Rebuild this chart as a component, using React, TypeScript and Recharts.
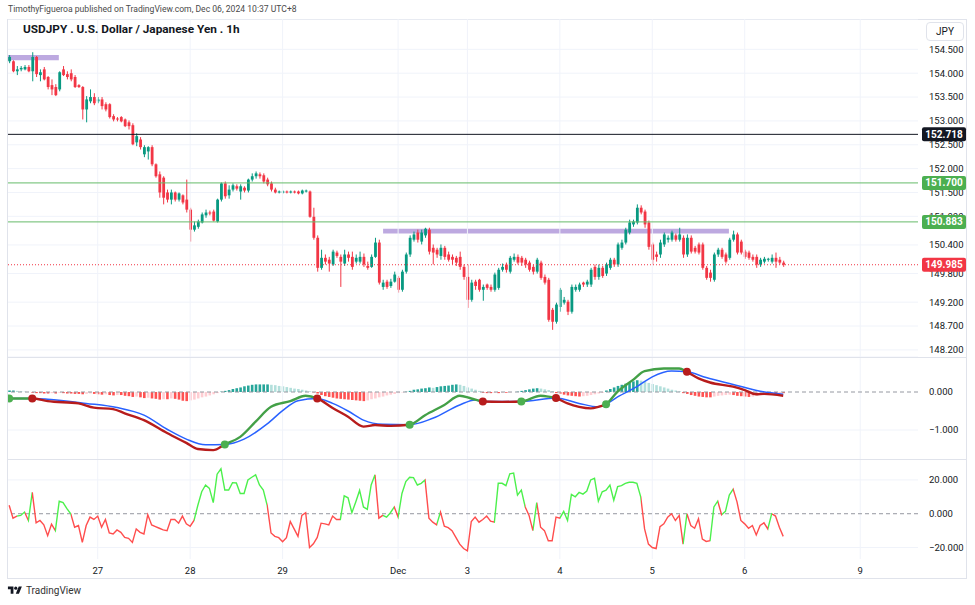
import {
  Bar,
  CartesianGrid,
  Cell,
  ComposedChart,
  Line,
  ReferenceArea,
  ReferenceDot,
  ReferenceLine,
  XAxis,
  YAxis,
} from "recharts";

// [open, high, low, close] per 1h bar, USDJPY
type Ohlc = [number, number, number, number];

const nov26: Ohlc[] = [
  [154.25, 154.38, 154.21, 154.34], [154.25, 154.27, 154.02, 154.04], [154.04, 154.15, 153.96, 154.08],
  [154.08, 154.15, 154.04, 154.11], [154.08, 154.17, 154.06, 154.13], [154.13, 154.17, 154.02, 154.04],
  [154.04, 154.44, 153.83, 154.34], [154.34, 154.36, 153.92, 153.98], [153.96, 154.08, 153.83, 154.02],
  [154.08, 154.13, 153.85, 153.87], [153.92, 153.94, 153.66, 153.71], [153.75, 153.87, 153.54, 153.66],
  [153.71, 153.77, 153.52, 153.54], [153.66, 154.04, 153.62, 154.02], [154.08, 154.15, 153.94, 153.96],
  [153.98, 154.04, 153.87, 153.92], [154.0, 154.08, 153.83, 153.87], [153.92, 153.96, 153.69, 153.71],
  [153.75, 153.77, 153.69, 153.71], [153.71, 153.73, 153.03, 153.24], [153.24, 153.52, 152.97, 153.45],
  [153.41, 153.66, 153.37, 153.5], [153.5, 153.58, 153.33, 153.37],
];
const nov27: Ohlc[] = [
  [153.41, 153.5, 153.37, 153.45], [153.45, 153.5, 153.24, 153.31], [153.35, 153.39, 153.2, 153.24],
  [153.35, 153.37, 153.05, 153.08], [153.1, 153.14, 152.99, 153.03], [153.05, 153.08, 152.99, 153.03],
  [153.08, 153.1, 152.97, 152.99], [153.03, 153.05, 152.87, 152.89], [152.97, 153.01, 152.82, 152.89],
  [152.91, 152.95, 152.49, 152.51], [152.55, 152.74, 152.47, 152.68], [152.61, 152.66, 152.4, 152.45],
  [152.3, 152.49, 152.24, 152.45], [152.36, 152.47, 152.19, 152.45], [152.45, 152.49, 152.05, 152.09],
  [152.09, 152.11, 151.81, 151.84], [151.88, 151.94, 151.39, 151.5], [151.81, 151.84, 151.25, 151.39],
  [151.5, 151.56, 151.29, 151.35], [151.35, 151.56, 151.25, 151.5], [151.5, 151.52, 151.31, 151.35],
  [151.35, 151.5, 151.31, 151.48], [151.44, 151.46, 151.25, 151.29], [151.35, 151.77, 151.08, 151.14],
];
const nov28: Ohlc[] = [
  [151.14, 151.18, 150.47, 150.72], [150.72, 150.89, 150.68, 150.81], [150.78, 150.93, 150.74, 150.89],
  [150.87, 151.08, 150.85, 151.04], [151.02, 151.14, 150.97, 151.08], [151.08, 151.12, 151.02, 151.06],
  [151.1, 151.14, 150.89, 150.91], [150.89, 151.37, 150.87, 151.35], [151.35, 151.71, 151.31, 151.69],
  [151.69, 151.73, 151.37, 151.42], [151.44, 151.65, 151.37, 151.56], [151.56, 151.69, 151.52, 151.65],
  [151.63, 151.67, 151.54, 151.58], [151.52, 151.67, 151.35, 151.63], [151.6, 151.63, 151.5, 151.54],
  [151.54, 151.79, 151.5, 151.77], [151.77, 151.9, 151.73, 151.84], [151.84, 151.94, 151.79, 151.9],
  [151.88, 151.92, 151.79, 151.84], [151.86, 151.9, 151.69, 151.73], [151.77, 151.81, 151.63, 151.67],
  [151.69, 151.73, 151.52, 151.56], [151.56, 151.6, 151.48, 151.5], [151.5, 151.54, 151.48, 151.52],
];
const nov29: Ohlc[] = [
  [151.5, 151.54, 151.48, 151.52], [151.52, 151.54, 151.48, 151.5], [151.5, 151.54, 151.48, 151.52],
  [151.52, 151.54, 151.48, 151.5], [151.52, 151.54, 151.46, 151.48], [151.48, 151.56, 151.46, 151.54],
  [151.52, 151.56, 151.5, 151.54], [151.52, 151.54, 150.97, 150.99], [150.99, 151.18, 150.51, 150.55],
  [150.55, 150.6, 149.84, 149.92], [149.92, 150.3, 149.88, 150.13], [150.13, 150.2, 149.99, 150.05],
  [150.09, 150.15, 149.84, 150.01], [149.99, 150.3, 149.96, 150.26], [150.24, 150.28, 150.13, 150.17],
  [150.15, 150.2, 149.52, 150.05], [150.01, 150.3, 149.96, 150.2], [150.2, 150.26, 150.05, 150.13],
  [150.15, 150.26, 149.88, 149.94], [150.05, 150.2, 150.01, 150.13], [150.05, 150.26, 150.01, 150.15],
  [150.15, 150.22, 149.94, 149.99], [149.96, 150.05, 149.88, 149.92], [149.94, 150.2, 149.92, 150.15],
  [150.15, 150.55, 150.13, 150.45], [150.45, 150.51, 149.57, 149.61], [149.52, 149.67, 149.46, 149.61],
  [149.63, 149.67, 149.48, 149.52], [149.54, 149.69, 149.5, 149.63], [149.63, 149.84, 149.61, 149.78],
];
const dec02: Ohlc[] = [
  [149.71, 149.75, 149.4, 149.46], [149.46, 149.88, 149.42, 149.84], [149.84, 150.24, 149.8, 150.2],
  [150.2, 150.6, 150.15, 150.55], [150.51, 150.68, 150.47, 150.62], [150.66, 150.72, 150.45, 150.51],
  [150.47, 150.72, 150.41, 150.66], [150.6, 150.76, 150.55, 150.74], [150.72, 150.76, 150.2, 150.26],
  [150.34, 150.41, 149.99, 150.24], [150.3, 150.34, 150.13, 150.2], [150.17, 150.41, 150.09, 150.34],
  [150.34, 150.38, 150.09, 150.15], [150.2, 150.26, 150.05, 150.09], [150.15, 150.2, 149.99, 150.09],
  [150.13, 150.17, 149.96, 150.03], [150.15, 150.26, 149.88, 149.94], [149.94, 149.99, 149.67, 149.73],
];
const dec03: Ohlc[] = [
  [149.73, 149.99, 149.08, 149.25], [149.25, 149.67, 149.21, 149.61], [149.63, 149.67, 149.46, 149.54],
  [149.67, 149.69, 149.42, 149.46], [149.46, 149.57, 149.23, 149.52], [149.57, 149.59, 149.46, 149.5],
  [149.52, 149.57, 149.42, 149.46], [149.46, 149.82, 149.42, 149.78], [149.5, 149.92, 149.46, 149.88],
  [149.88, 150.01, 149.84, 149.94], [149.99, 150.03, 149.82, 149.88], [149.84, 150.17, 149.8, 150.13],
  [150.09, 150.22, 150.05, 150.15], [150.15, 150.2, 149.99, 150.03], [150.13, 150.17, 149.96, 150.03],
  [150.09, 150.13, 149.92, 149.99], [150.03, 150.07, 149.84, 149.88], [149.94, 149.99, 149.78, 149.84],
  [149.84, 150.13, 149.8, 150.09], [150.03, 150.07, 149.67, 149.71], [149.73, 149.78, 149.57, 149.61],
  [149.67, 149.71, 148.79, 148.83], [149.04, 149.08, 148.62, 148.79], [148.79, 149.19, 148.75, 149.15],
];
const dec04: Ohlc[] = [
  [149.1, 149.5, 149.0, 149.46], [149.19, 149.31, 149.15, 149.25], [149.21, 149.25, 148.93, 149.0],
  [149.0, 149.57, 148.96, 149.52], [149.46, 149.57, 149.42, 149.52], [149.46, 149.61, 149.42, 149.57],
  [149.61, 149.63, 149.52, 149.57], [149.57, 149.67, 149.52, 149.63], [149.57, 149.92, 149.52, 149.88],
  [149.94, 149.99, 149.67, 149.73], [149.73, 149.99, 149.67, 149.92], [149.92, 149.96, 149.71, 149.75],
  [149.8, 150.03, 149.75, 149.99], [149.92, 150.13, 149.88, 150.09], [150.09, 150.13, 149.94, 149.99],
  [149.99, 150.45, 149.94, 150.41], [150.34, 150.51, 150.3, 150.45], [150.45, 150.76, 150.41, 150.72],
  [150.66, 150.93, 150.62, 150.87], [150.83, 150.93, 150.78, 150.89], [150.87, 151.25, 150.83, 151.18],
  [151.18, 151.23, 151.04, 151.08], [151.1, 151.14, 150.76, 150.83], [150.87, 150.91, 150.3, 150.36],
];
const dec05: Ohlc[] = [
  [150.41, 150.45, 149.99, 150.09], [150.2, 150.26, 150.05, 150.15], [150.2, 150.51, 150.13, 150.45],
  [150.41, 150.66, 150.36, 150.62], [150.51, 150.6, 150.45, 150.55], [150.51, 150.7, 150.47, 150.66],
  [150.6, 150.64, 150.47, 150.51], [150.51, 150.76, 150.47, 150.62], [150.55, 150.6, 150.13, 150.2],
  [150.2, 150.62, 150.15, 150.55], [150.55, 150.6, 150.22, 150.26], [150.34, 150.38, 150.22, 150.26],
  [150.41, 150.45, 150.2, 150.24], [150.41, 150.45, 149.88, 149.92], [149.92, 149.96, 149.67, 149.71],
  [149.82, 149.88, 149.63, 149.71], [149.67, 150.24, 149.63, 150.2], [150.2, 150.34, 150.15, 150.3],
  [150.3, 150.34, 150.11, 150.15], [150.2, 150.24, 150.01, 150.05], [150.13, 150.55, 150.09, 150.51],
  [150.51, 150.7, 150.47, 150.62], [150.62, 150.66, 150.2, 150.24], [150.47, 150.51, 150.2, 150.24],
];
const dec06: Ohlc[] = [
  [150.26, 150.3, 150.11, 150.15], [150.24, 150.28, 150.09, 150.13], [150.15, 150.2, 150.05, 150.09],
  [150.15, 150.2, 149.92, 149.99], [149.99, 150.13, 149.94, 150.09], [150.05, 150.15, 150.01, 150.11],
  [150.09, 150.13, 150.05, 150.11], [150.05, 150.2, 150.01, 150.13], [150.13, 150.24, 149.92, 150.05],
  [150.09, 150.15, 149.99, 150.03], [150.03, 150.07, 149.94, 149.985],
];

// time axis: bar index of each day label
const dayTicks = [23, 47, 71, 101, 119, 143, 167, 191, 221];
const dayLabels = ["27", "28", "29", "Dec", "3", "4", "5", "6", "9"];

const priceTicks = [148.2, 148.7, 149.2, 149.8, 150.4, 151.0, 151.5, 152.0, 152.5, 153.0, 153.5, 154.0, 154.5];
const levels = [
  { price: 152.718, color: "#131722", line: "#131722" },
  { price: 151.7, color: "#4caf50", line: "#66bb6a" },
  { price: 150.883, color: "#4caf50", line: "#66bb6a" },
];
const lastPrice = 149.985;
// drawn zones: [from bar, to bar, low, high]
const zones: [number, number, number, number][] = [
  [-0.3, 12.9, 154.27, 154.38],
  [97.1, 186.9, 150.64, 150.74],
];

// MACD panel
const histNov = [
  0.04, 0.04, 0.03, 0.02, 0.01, 0.0, -0.02, -0.03, -0.03, -0.04,
  -0.04, -0.03, -0.04, -0.02, -0.03, -0.04, -0.04, -0.05, -0.05, -0.06,
  -0.05, -0.04, -0.05, -0.06, -0.07, -0.06, -0.08, -0.09, -0.08, -0.08,
  -0.1, -0.11, -0.13, -0.12, -0.14, -0.16, -0.15, -0.17, -0.18, -0.2,
  -0.19, -0.19, -0.17, -0.18, -0.2, -0.23, -0.24, -0.22, -0.2, -0.17,
  -0.14, -0.12, -0.09, -0.06, -0.03, 0.01, 0.03, 0.05, 0.08, 0.1,
  0.12, 0.15, 0.17, 0.19, 0.2, 0.2, 0.2, 0.2, 0.19, 0.18,
  0.16, 0.15, 0.13, 0.11, 0.09, 0.08, 0.06, 0.04, 0.02, -0.01,
  -0.04, -0.08, -0.11, -0.13, -0.15, -0.17, -0.18, -0.19, -0.2, -0.21,
  -0.22, -0.23, -0.24, -0.22, -0.19, -0.17, -0.14, -0.12, -0.09, -0.07,
  -0.05,
];
const histDec = [
  -0.03, -0.01, 0.01, 0.03, 0.06, 0.07, 0.09, 0.1, 0.12,
  0.11, 0.13, 0.15, 0.16, 0.17, 0.19, 0.2, 0.19, 0.16, 0.12,
  0.09, 0.06, 0.03, -0.02, -0.03, -0.03, -0.02, -0.03, -0.02, -0.02,
  -0.01, 0.0, 0.01, 0.03, 0.05, 0.07, 0.09, 0.1, 0.09, 0.07,
  0.05, 0.02, -0.03, -0.05, -0.07, -0.09, -0.1, -0.11, -0.12, -0.11,
  -0.1, -0.08, -0.06, -0.04, -0.02, 0.04, 0.08, 0.12, 0.16, 0.19,
  0.22, 0.25, 0.28, 0.31, 0.3, 0.27, 0.24, 0.21, 0.18, 0.15,
  0.12, 0.09, 0.06, 0.04, 0.02, -0.03, -0.05, -0.08, -0.1, -0.12,
  -0.13, -0.14, -0.14, -0.12, -0.1, -0.09, -0.08, -0.07, -0.08, -0.1,
  -0.11, -0.12, -0.13, -0.12, -0.1, -0.08, -0.06, -0.05, -0.04, -0.04,
  -0.03, -0.03,
];
// [bar, value]
const macdLine: [number, number][] = [
  [0, -0.17], [6, -0.17], [10, -0.24], [18, -0.3], [22, -0.41], [27, -0.45], [30, -0.56], [35, -0.74],
  [41, -1.08], [46, -1.34], [49, -1.5], [53, -1.53], [56, -1.38], [60, -1.18], [64, -0.78], [68, -0.39],
  [73, -0.24], [77, -0.1], [80, -0.17], [84, -0.42], [88, -0.65], [92, -0.91], [95, -0.87], [99, -0.89],
  [104, -0.86], [108, -0.61], [113, -0.34], [117, -0.1], [120, -0.17], [123, -0.25], [128, -0.26],
  [133, -0.25], [138, -0.1], [140, -0.12], [142, -0.16], [145, -0.3], [148, -0.39], [151, -0.43],
  [153, -0.39], [155, -0.32], [158, 0.01], [162, 0.32], [165, 0.55], [170, 0.62], [174, 0.62],
  [176, 0.53], [179, 0.36], [182, 0.25], [188, 0.14], [191, 0.05], [194, -0.06], [196, -0.05], [201, -0.1],
];
const signalLine: [number, number][] = [
  [0, -0.17], [6, -0.17], [10, -0.19], [20, -0.3], [28, -0.41], [35, -0.61], [41, -0.98], [46, -1.24],
  [51, -1.39], [56, -1.38], [61, -1.24], [67, -0.84], [71, -0.49], [75, -0.23], [80, -0.17], [84, -0.3],
  [88, -0.5], [92, -0.74], [97, -0.85], [104, -0.86], [110, -0.69], [117, -0.34], [121, -0.21],
  [123, -0.25], [133, -0.25], [142, -0.16], [148, -0.3], [153, -0.39], [155, -0.32], [158, -0.13],
  [163, 0.14], [167, 0.4], [172, 0.55], [176, 0.53], [181, 0.38], [188, 0.2], [195, 0.02], [201, -0.06],
];
const macdGreen = [[0, 6], [56, 80], [104, 123], [133, 142], [155, 176]];
// [bar, value, crossing up]
const crosses: [number, number, boolean][] = [
  [0, -0.17, true], [6, -0.17, false], [56, -1.38, true], [80, -0.17, false], [104, -0.86, true],
  [123, -0.25, false], [133, -0.25, true], [142, -0.16, false], [155, -0.32, true], [176, 0.53, false],
];

// lower oscillator
const oscNov = [
  5.0, -2.6, -1.4, -1.0, 1.0, -4.0, 12.6, -5.4, -4.0, -6.6,
  -13, -6.2, -10, 7.4, 6.6, 3, 0, -8, -7, -17,
  -7, -2, -3.4, -1.4, -8, -3.4, -11.4, -12, -9.6, -11,
  -14, -14.6, -17, -9, -11, -12, -0.6, -6.6, -7.6, -8.6,
  -9.6, -10, -3.4, -3.4, -5.6, -1.4, -6, -7.4, -4, 5,
  13, 17, 15, 6.6, 23.4, 26.6, 14, 14, 18.4, 18.2,
  12, 12, 20, 21.6, 23, 17, 14, 5, -11.4, -13.4,
  -14.2, -16.6, -14.2, -4.6, -9, -13.4, -1, 0.6, -20, -17.8,
  -14, -5.6, -6, -6.6, -1.4, -3.4, -3.4, 10.6, 9.4, 0.6,
  7, 13.8, 4, 2.6, 17, 23, -2.6, -1, -2, 0.6,
  4,
];
const oscDec = [
  -2, 12, 19, 21.6, 21.4, 17, 18, 20, -2.6,
  -5, -6.6, 1, -7.4, -8.2, -10, -14, -18, -20.6, -22,
  -4.6, -2, -5, -3.4, -1.4, -4.4, -5, 18, 18, 16.6,
  23.6, 24, 11, 14, 4, -1, -10, 6.6, -8, -10,
  -16, -16, -2, -2.6, 1.4, -4, 11.4, 10, 12.6, 11.6,
  13.4, 20, 21, 7.4, 13, 14, 17, 8, 16, 16.6,
  18, 18.6, 18.6, 18, 10, -9, -18, -20, -20.6, -7.6,
  -6, -2, 0, -4, -1, -18, 0, -7, -8.6, -3,
  -15, -16.4, -16, 4, 7.4, -0.6, 1.4, 11, 14.6, 7,
  -4, -6, -8.6, -7, -12.6, -7, -5.4, -9, 0, -1.4,
  -8, -13.4,
];
const oscGreen = [
  [2, 4], [5, 6], [12, 16], [48, 67], [86, 95], [97, 100], [101, 108], [111, 112],
  [126, 134], [136, 137], [143, 164], [175, 176], [182, 184], [185, 188], [197, 198],
];

const FONT = "Roboto, 'Noto Sans', sans-serif";
const TEXT = "#131722";
const GRID = "#f0f3fa";
const BORDER = "#e0e3eb";
const UP = "#089981";
const DOWN = "#f23645";
const X_DOMAIN: [number, number] = [-0.3, 236];
const PRICE_DOMAIN: [number, number] = [148.051, 155.136];
const CHART_W = 959;
const AXIS_W = 49;
const tickStyle = { fontSize: 9.5, fill: TEXT, fontFamily: FONT };

const candles = [...nov26, ...nov27, ...nov28, ...nov29, ...dec02, ...dec03, ...dec04, ...dec05, ...dec06].map(
  ([o, h, l, c], i) => ({ i, o, h, l, c, range: [l, h] })
);
const hist = [...histNov, ...histDec];
const histData = hist.map((v, i) => ({ i, v }));
const histColor = (k: number) => {
  const v = hist[k];
  const prev = k > 0 ? hist[k - 1] : v;
  if (v >= 0) return v >= prev ? "#26a69a" : "#b2dfdb";
  return v <= prev ? "#ff5252" : "#ffcdd2";
};
const osc = [...oscNov, ...oscDec];
const oscData = osc.map((v, i) => ({ i, v }));
const macdData = macdLine.map(([i, v]) => ({ i, v }));
const signalData = signalLine.map(([i, v]) => ({ i, v }));

const fmt = (v: number) => (v < 0 ? "\u2212" : "") + Math.abs(v).toFixed(3);

function spanStops(spans: number[][], last: number, on: string, off: string) {
  const stops: { o: number; c: string }[] = [{ o: 0, c: off }];
  spans.forEach(([a, b]) => {
    stops.push({ o: a / last, c: off }, { o: a / last, c: on }, { o: b / last, c: on }, { o: b / last, c: off });
  });
  stops.push({ o: 1, c: off });
  return stops;
}

const Candle = (props: any) => {
  const { x, y, width, height, payload } = props;
  if (!payload || height == null) return null;
  const { o, h, l, c } = payload;
  const color = c >= o ? UP : DOWN;
  const k = height / (h - l || 1);
  const cx = x + width / 2;
  const top = y + (h - Math.max(o, c)) * k;
  const bot = y + (h - Math.min(o, c)) * k;
  return (
    <g>
      <line x1={cx} x2={cx} y1={y} y2={y + height} stroke={color} strokeWidth={1} />
      <rect x={x} y={top} width={width} height={Math.max(bot - top, 1)} fill={color} />
    </g>
  );
};

const PriceTag = (props: any) => {
  const { viewBox, value, bg } = props;
  if (!viewBox) return null;
  const x = viewBox.x + viewBox.width + 4;
  const y = viewBox.y;
  return (
    <g>
      <rect x={x} y={y - 7} width={44} height={14} rx={2} fill={bg} />
      <text x={x + 22} y={y} dy="0.35em" textAnchor="middle" fill="#fff" fontSize={10} fontWeight={700} fontFamily={FONT}>
        {value.toFixed(3)}
      </text>
    </g>
  );
};

const DayLines = () => (
  <>
    {dayTicks.map((t) => (
      <ReferenceLine key={t} x={t} stroke={GRID} />
    ))}
  </>
);

export default function App() {
  const margin = { top: 0, right: 0, bottom: 0, left: 0 };
  return (
    <div style={{ position: "relative", width: 975, height: 605, background: "#fff", fontFamily: FONT, color: TEXT }}>
      <style>{"body{margin:0}"}</style>
      <div style={{ position: "absolute", left: 8, top: 4, fontSize: 8.6, color: "#4a4a4a", whiteSpace: "nowrap" }}>
        TimothyFigueroa published on TradingView.com, Dec 06, 2024 10:37 UTC+8
      </div>
      <div style={{ position: "absolute", left: 7, top: 19, width: 960, height: 560, border: `1px solid ${BORDER}`, boxSizing: "border-box" }} />
      <div style={{ position: "absolute", left: 7, top: 357, width: 960, height: 1, background: BORDER }} />
      <div style={{ position: "absolute", left: 7, top: 459, width: 960, height: 1, background: BORDER }} />

      <div style={{ position: "absolute", left: 8, top: 19 }}>
        <ComposedChart width={CHART_W} height={338} data={candles} margin={margin}>
          <CartesianGrid vertical={false} stroke={GRID} />
          <DayLines />
          <XAxis type="number" dataKey="i" domain={X_DOMAIN} allowDataOverflow hide />
          <YAxis
            orientation="right"
            width={AXIS_W}
            domain={PRICE_DOMAIN}
            allowDataOverflow
            ticks={priceTicks}
            interval={0}
            tickFormatter={fmt}
            axisLine={false}
            tickLine={false}
            tickMargin={5}
            tick={tickStyle}
          />
          <Bar dataKey="range" barSize={2.8} shape={Candle} isAnimationActive={false} />
          {zones.map(([x1, x2, y1, y2], k) => (
            <ReferenceArea key={k} x1={x1} x2={x2} y1={y1} y2={y2} fill="#9575cd" fillOpacity={0.62} stroke="none" />
          ))}
        </ComposedChart>
      </div>

      {/* level lines and their price tags, drawn above the price scale */}
      <div style={{ position: "absolute", left: 8, top: 19 }}>
        <ComposedChart width={CHART_W} height={338} data={candles} margin={margin}>
          <XAxis type="number" dataKey="i" domain={X_DOMAIN} allowDataOverflow hide />
          <YAxis orientation="right" width={AXIS_W} domain={PRICE_DOMAIN} allowDataOverflow tick={false} axisLine={false} tickLine={false} />
          {levels.map((lv) => (
            <ReferenceLine key={lv.price} y={lv.price} stroke={lv.line} label={<PriceTag value={lv.price} bg={lv.color} />} />
          ))}
          <ReferenceLine y={lastPrice} stroke={DOWN} strokeDasharray="1 2" label={<PriceTag value={lastPrice} bg={DOWN} />} />
        </ComposedChart>
      </div>

      <div style={{ position: "absolute", left: 8, top: 358 }}>
        <ComposedChart width={CHART_W} height={101} data={histData} margin={margin}>
          <defs>
            <linearGradient id="macdGrad" x1="0" y1="0" x2="1" y2="0">
              {spanStops(macdGreen, 201, "#43a047", "#b71c1c").map((s, k) => (
                <stop key={k} offset={s.o} stopColor={s.c} />
              ))}
            </linearGradient>
          </defs>
          <DayLines />
          <ReferenceLine y={-1} stroke={GRID} />
          <ReferenceLine y={0} stroke="#9598a1" strokeDasharray="4 3" />
          <XAxis type="number" dataKey="i" domain={X_DOMAIN} allowDataOverflow hide />
          <YAxis
            orientation="right"
            width={AXIS_W}
            domain={[-1.763, 0.895]}
            allowDataOverflow
            ticks={[0, -1]}
            interval={0}
            tickFormatter={fmt}
            axisLine={false}
            tickLine={false}
            tickMargin={5}
            tick={tickStyle}
          />
          <Bar dataKey="v" barSize={2.6} isAnimationActive={false}>
            {histData.map((d) => (
              <Cell key={d.i} fill={histColor(d.i)} />
            ))}
          </Bar>
          <Line data={signalData} dataKey="v" type="monotone" stroke="#2962ff" strokeWidth={1.5} dot={false} isAnimationActive={false} />
          <Line data={macdData} dataKey="v" type="monotone" stroke="url(#macdGrad)" strokeWidth={2.4} dot={false} isAnimationActive={false} />
          {crosses.map(([i, v, up]) => (
            <ReferenceDot key={i} x={i} y={v} r={4} fill={up ? "#4caf50" : "#b71c1c"} stroke="none" />
          ))}
        </ComposedChart>
      </div>

      <div style={{ position: "absolute", left: 8, top: 460 }}>
        <ComposedChart width={CHART_W} height={119} data={oscData} margin={margin}>
          <defs>
            <linearGradient id="oscGrad" x1="0" y1="0" x2="1" y2="0">
              {spanStops(oscGreen, 201, "#4cf04c", "#ff4d4d").map((s, k) => (
                <stop key={k} offset={s.o} stopColor={s.c} />
              ))}
            </linearGradient>
          </defs>
          <DayLines />
          <ReferenceLine y={20} stroke={GRID} />
          <ReferenceLine y={-20} stroke={GRID} />
          <ReferenceLine y={0} stroke="#9598a1" strokeDasharray="4 3" />
          <XAxis
            type="number"
            dataKey="i"
            domain={X_DOMAIN}
            allowDataOverflow
            ticks={dayTicks}
            interval={0}
            tickFormatter={(v: number) => dayLabels[dayTicks.indexOf(v)] ?? ""}
            axisLine={false}
            tickLine={false}
            height={20}
            tick={tickStyle}
          />
          <YAxis
            orientation="right"
            width={AXIS_W}
            domain={[-26.8, 31.8]}
            allowDataOverflow
            ticks={[20, 0, -20]}
            interval={0}
            tickFormatter={fmt}
            axisLine={false}
            tickLine={false}
            tickMargin={5}
            tick={tickStyle}
          />
          <Line dataKey="v" type="linear" stroke="url(#oscGrad)" strokeWidth={1.4} dot={false} isAnimationActive={false} />
        </ComposedChart>
      </div>

      <div style={{ position: "absolute", left: 23, top: 22, fontSize: 11.8, fontWeight: 700, whiteSpace: "nowrap" }}>
        USDJPY . U.S. Dollar / Japanese Yen . 1h
      </div>
      <div
        style={{
          position: "absolute",
          left: 926,
          top: 22,
          width: 38,
          height: 19,
          border: `1px solid ${BORDER}`,
          borderRadius: 4,
          boxSizing: "border-box",
          background: "#fff",
          fontSize: 10,
          lineHeight: "17px",
          textAlign: "center",
        }}
      >
        JPY
      </div>
      <div style={{ position: "absolute", left: 7, top: 585, display: "flex", alignItems: "center", gap: 3 }}>
        <svg width={16} height={11} viewBox="0 0 36 28">
          <path d="M14 22H7V11H0V4h14v18zM28 22h-8l7.5-18h8L28 22z" fill={TEXT} />
          <circle cx={20} cy={8} r={4} fill={TEXT} />
        </svg>
        <span style={{ fontSize: 10, color: "#333" }}>TradingView</span>
      </div>
    </div>
  );
}
